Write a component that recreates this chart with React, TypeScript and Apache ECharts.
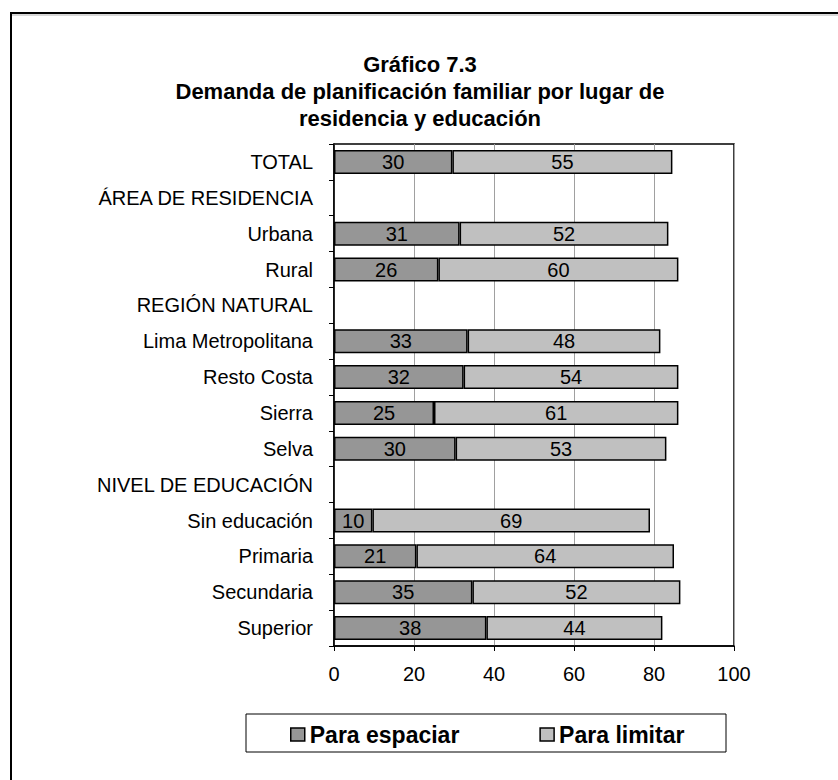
import React, { useEffect, useRef } from "react";
import * as echarts from "echarts";

const categories = [
  "TOTAL",
  "ÁREA DE RESIDENCIA",
  "Urbana",
  "Rural",
  "REGIÓN NATURAL",
  "Lima Metropolitana",
  "Resto Costa",
  "Sierra",
  "Selva",
  "NIVEL DE EDUCACIÓN",
  "Sin educación",
  "Primaria",
  "Secundaria",
  "Superior",
];

const paraEspaciar = [29.6, null, 31.4, 26.1, null, 33.4, 32.4, 25.0, 30.4, null, 9.6, 20.6, 34.6, 38.1];
const paraLimitar = [55.0, null, 52.2, 60.0, null, 48.2, 53.7, 61.1, 52.7, null, 69.4, 64.4, 52.0, 44.0];

const xTicks = { min: 0, max: 100, interval: 20 };

const titleLines = [
  "Gráfico 7.3",
  "Demanda de planificación familiar por lugar de",
  "residencia y educación",
];

const FONT = "Liberation Sans, Arial, sans-serif";

export default function App() {
  const ref = useRef<HTMLDivElement>(null);

  useEffect(() => {
    document.body.style.margin = "0";
    const chart = echarts.init(ref.current!, null, { renderer: "svg" });
    const label = {
      show: true,
      position: "inside",
      color: "#000",
      fontFamily: FONT,
      fontSize: 20,
      formatter: (p: any) => (p.value == null ? "" : String(Math.round(p.value))),
    };
    const titleGraphics = titleLines.map((t, i) => ({
      type: "text",
      x: 420,
      y: 64 + i * 27,
      silent: true,
      style: {
        text: t,
        fill: "#000",
        font: `bold 22px ${FONT}`,
        textAlign: "center",
        textVerticalAlign: "middle",
      },
    }));
    chart.setOption({
      animation: false,
      backgroundColor: "#fff",
      graphic: [
        {
          type: "rect",
          shape: { x: 11, y: 13, width: 900, height: 900 },
          style: { fill: "none", stroke: "#000", lineWidth: 2 },
          silent: true,
        },
        {
          type: "line",
          shape: { x1: 12, y1: 15, x2: 838, y2: 15 },
          style: { stroke: "#b0b0b0", lineWidth: 1 },
          silent: true,
        },
        {
          type: "rect",
          shape: { x: 246, y: 714, width: 480, height: 38 },
          style: { fill: "#fff", stroke: "#000", lineWidth: 1 },
          silent: true,
          z: 0,
        },
        ...titleGraphics,
      ],
      legend: {
        left: 285,
        top: 718,
        itemWidth: 14,
        itemHeight: 13,
        itemGap: 80,
        icon: "rect",
        textStyle: {
          fontFamily: FONT,
          fontSize: 23,
          fontWeight: "bold",
          color: "#000",
        },
        itemStyle: { borderColor: "#000", borderWidth: 1.5 },
        data: ["Para espaciar", "Para limitar"],
        z: 5,
      },
      grid: {
        left: 334,
        top: 144,
        width: 400,
        height: 502,
        show: true,
        borderColor: "#000",
        borderWidth: 1.5,
        backgroundColor: "transparent",
      },
      xAxis: {
        type: "value",
        min: xTicks.min,
        max: xTicks.max,
        interval: xTicks.interval,
        axisLine: { show: true, lineStyle: { color: "#000", width: 1.5 } },
        axisTick: { show: true, length: 5, lineStyle: { color: "#000", width: 1 } },
        splitLine: { show: true, lineStyle: { color: "#a0a0a0", width: 1 } },
        axisLabel: { color: "#000", fontFamily: FONT, fontSize: 20, margin: 18 },
      },
      yAxis: {
        type: "category",
        inverse: true,
        data: categories,
        axisLine: { show: true, lineStyle: { color: "#000", width: 1.5 } },
        axisTick: { show: true, length: 5, lineStyle: { color: "#000", width: 1 } },
        axisLabel: { color: "#000", fontFamily: FONT, fontSize: 20, margin: 21, interval: 0 },
      },
      series: [
        {
          name: "Para espaciar",
          type: "bar",
          stack: "d",
          data: paraEspaciar,
          barWidth: 24,
          itemStyle: { color: "#969696", borderColor: "#000", borderWidth: 1.5 },
          label,
        },
        {
          name: "Para limitar",
          type: "bar",
          stack: "d",
          data: paraLimitar,
          barWidth: 24,
          itemStyle: { color: "#c0c0c0", borderColor: "#000", borderWidth: 1.5 },
          label,
        },
      ],
    });
    return () => chart.dispose();
  }, []);

  return <div ref={ref} style={{ width: 838, height: 780 }} />;
}
